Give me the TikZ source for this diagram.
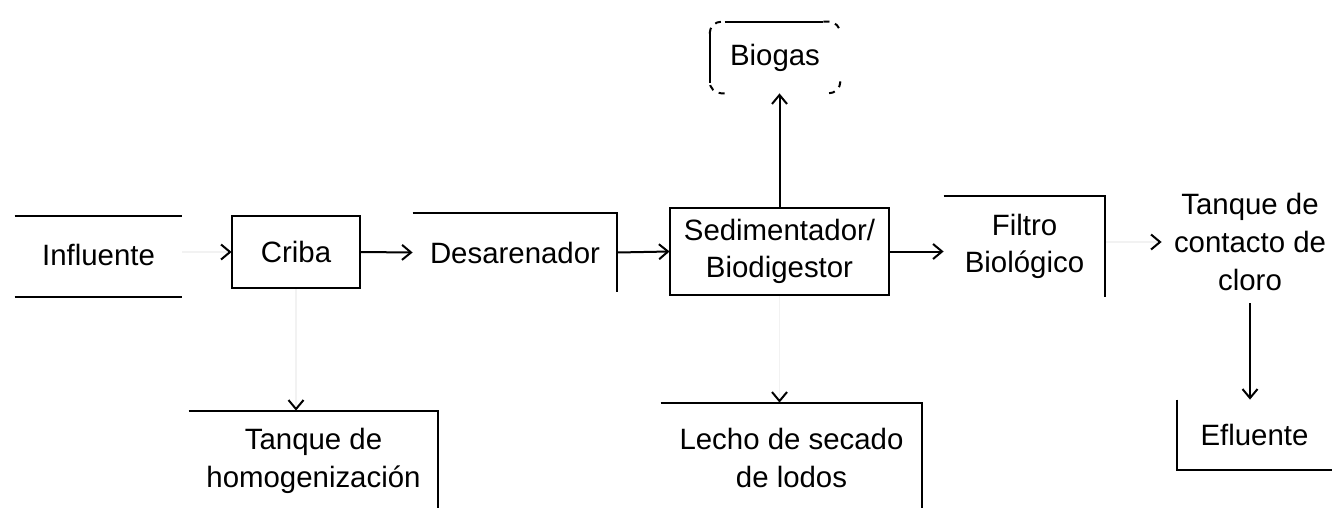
\documentclass[tikz,border=0pt]{standalone}
\usepackage{fontspec}
\setmainfont{Liberation Sans}
\usetikzlibrary{arrows.meta,calc}
\begin{document}
\begin{tikzpicture}[x=0.5pt,y=-0.5pt,
  lbl/.style={draw=none, inner sep=0pt, align=center, font=\fontsize{14.7}{18.8}\selectfont},
  edge/.style={line width=1pt},
  arr/.style={line width=1pt, -{Straight Barb[length=4.5pt,width=7.5pt,line width=1pt]}},
  ghost/.style={line width=0.6pt, draw=black!5, -{Straight Barb[length=4.5pt,width=7.5pt,line width=1pt,color=black]}},
  dcorner/.style={line width=1pt, dash pattern=on 3pt off 3pt, rounded corners=6pt}
]
\useasboundingbox[fill=white] (0,0) rectangle (1332,508);

\node[lbl, minimum width=83.5pt, minimum height=40.5pt] (infl) at (98.5,254.5) {Influente};
\node[lbl, minimum width=64pt, minimum height=36pt] (criba) at (296,252) {Criba};
\node[lbl, minimum width=102pt, minimum height=39.5pt] (des) at (515,252.5) {Desarenador};
\node[lbl, minimum width=109.5pt, minimum height=43.5pt] (sed) at (779.5,251.5) {Sedimentador/\\Biodigestor};
\node[lbl, minimum width=65pt, minimum height=35.5pt] (bio) at (775,57.5) {Biogas};
\node[lbl, minimum width=80.5pt, minimum height=50.5pt] (fil) at (1024.5,246.5) {Filtro\\Biológico};
\node[lbl, minimum width=88pt, minimum height=61pt] (tcc) at (1250,242) {Tanque de\\contacto de\\cloro};
\node[lbl, minimum width=77.5pt, minimum height=35pt] (efl) at (1254.5,435) {Efluente};
\node[lbl, minimum width=124.5pt, minimum height=50pt] (hom) at (313.5,461) {Tanque de\\homogenización};
\node[lbl, minimum width=130.5pt, minimum height=55pt] (lec) at (791.5,458) {Lecho de secado\\de lodos};

% faint connectors
\draw[ghost] (criba.west -| infl.east) -- (criba.west);
\draw[ghost] (tcc.west -| fil.east) -- (tcc.west);
\draw[ghost] (criba.south) -- (criba.south |- hom.north);
\draw[ghost] (sed.south) -- (sed.south |- lec.north);

% visible box edges
\draw[edge] ($(infl.north west)+(0,2)$) -- ($(infl.north east)+(0,2)$);
\draw[edge] ($(infl.south west)+(0,2)$) -- ($(infl.south east)+(0,2)$);
\draw[edge] (criba.north west) rectangle (criba.south east);
\draw[edge] (des.north west) -- (des.north east) -- (des.south east);
\draw[edge] (sed.north west) rectangle (sed.south east);
\draw[edge] (fil.north west) -- (fil.north east) -- (fil.south east);
\draw[edge] (efl.north west) -- (efl.south west) -- (efl.south east);
\draw[edge] (hom.north west) -- (hom.north east) -- (hom.south east);
\draw[edge] (lec.north west) -- (lec.north east) -- (lec.south east);

% Biogas outline
\draw[edge] ($(bio.north west)+(0,10)$) -- ($(bio.south west)+(0,-10)$);
\draw[edge] ($(bio.north west)+(15,0)$) -- ($(bio.north east)+(-17,0)$);
\draw[dcorner] ($(bio.north west)+(0,12)$) |- ($(bio.north west)+(15,0)$);
\draw[dcorner] ($(bio.north east)+(-17,0)$) -| ($(bio.north east)+(0,12)$);
\draw[dcorner] ($(bio.south east)+(0,-12)$) |- ($(bio.south east)+(-15,0)$);
\draw[dcorner] ($(bio.south west)+(15,0)$) -| ($(bio.south west)+(0,-12)$);

% connectors
\draw[arr] (criba.east) -- (des.west);
\draw[arr] (des.east) -- (sed.west);
\draw[arr] (sed.east) -- (sed.east -| fil.west);
\draw[arr] (sed.north) -- (sed.north |- bio.south);
\draw[arr] (tcc.south) -- (tcc.south |- efl.north);
\end{tikzpicture}
\end{document}
